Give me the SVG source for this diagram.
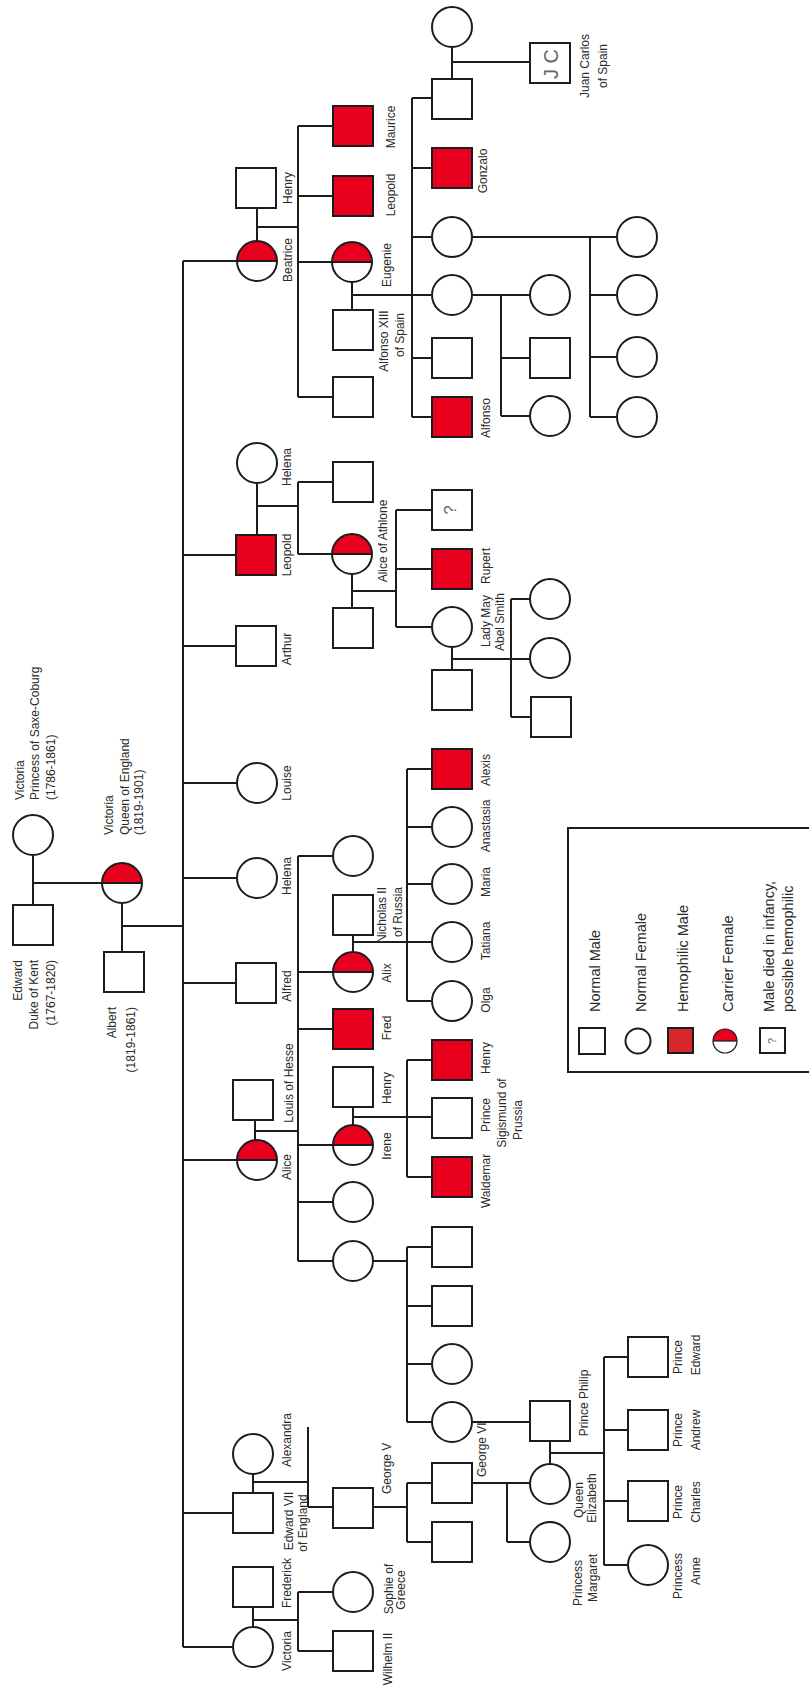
<svg xmlns="http://www.w3.org/2000/svg" width="809" height="1689" viewBox="0 0 809 1689">
<style>
.ln{fill:none;stroke:#1c1c1c;stroke-width:2}
.nd{fill:#fff;stroke:#1c1c1c;stroke-width:2}
.hm{fill:#e8001e;stroke:#1c1c1c;stroke-width:2}
.t{font-family:"Liberation Sans",Arial,sans-serif;font-size:12px;fill:#2a2a2a}
.m{text-anchor:middle}
.e{text-anchor:end}
.lg{font-size:14.5px}
.q{font-family:"Liberation Sans",Arial,sans-serif;fill:#666;text-anchor:middle}
</style>
<defs>
<rect id="S" x="-20" y="-20" width="40" height="40" class="nd"/>
<rect id="H" x="-20" y="-20" width="40" height="40" class="hm"/>
<circle id="F" r="20" class="nd"/>
<g id="C"><circle r="20" fill="#fff"/><path d="M-20,0 A20,20 0 0 1 20,0 Z" fill="#e8001e"/><circle r="20" fill="none" stroke="#1c1c1c" stroke-width="2"/><line x1="-20" y1="0" x2="20" y2="0" stroke="#1c1c1c" stroke-width="2"/></g>
</defs>
<rect width="809" height="1689" fill="#fff"/>

<g id="connectors" class="ln">
<path d="M183,261 V1647"/>
<path d="M183,261 H237 M183,555 H236 M183,646 H236 M183,783 H237 M183,878 H237 M122,926 H183 M183,983 H236 M183,1160 H237 M183,1513 H233 M183,1647 H233"/>
<path d="M33,855 V905 M33,883 H102 M122,903 V952"/>
<path d="M257,208 V241 M257,227 H298 M298,126 V397 M298,126 H333 M298,196 H333 M298,262 H332 M298,397 H333"/>
<path d="M352,282 V310 M352,295 H432 M412,98 V417 M412,98 H431 M412,168 H431 M412,237 H432 M412,358 H431 M412,417 H431"/>
<path d="M452,47 V79 M452,62 H530"/>
<path d="M472,237 H617 M590,237 V417 M590,295 H617 M590,357 H617 M590,417 H617"/>
<path d="M472,295 H530 M501,295 V416 M501,358 H530 M501,416 H530"/>
<path d="M257,483 V535 M257,506 H298 M298,482 V554 M298,482 H333 M298,554 H332"/>
<path d="M352,574 V608 M352,591 H396 M396,510 V627 M396,510 H431 M396,569 H431 M396,627 H432"/>
<path d="M452,647 V670 M452,659 H530 M511,599 V717 M511,599 H530 M511,717 H531"/>
<path d="M255,1120 V1140 M255,1131 H298 M298,856 V1261 M298,856 H333 M298,972 H333 M298,1029 H333 M298,1145 H333 M298,1202 H333 M298,1261 H333"/>
<path d="M353,935 V952 M353,942 H432 M407,769 V1001 M407,769 H431 M407,827 H432 M407,884 H432 M407,1001 H432"/>
<path d="M353,1107 V1125 M353,1117 H431 M407,1060 V1177 M407,1060 H431 M407,1177 H431"/>
<path d="M373,1261 H407 M407,1247 V1422 M407,1247 H431 M407,1306 H431 M407,1364 H432 M407,1422 H432 M472,1422 H530"/>
<path d="M253,1474 V1493 M253,1482 H308 M308,1427 V1507 M308,1507 H333 M373,1507 H407 M407,1483 V1542 M407,1483 H431 M407,1542 H431"/>
<path d="M472,1483 H530 M507,1483 V1542 M507,1542 H530"/>
<path d="M550,1441 V1464 M550,1453 H604 M604,1357 V1565 M604,1357 H628 M604,1430 H628 M604,1501 H628 M604,1565 H628"/>
<path d="M253,1607 V1627 M253,1620 H298 M298,1592 V1651 M298,1592 H333 M298,1651 H333"/>
</g>

<g id="victoria-saxe-coburg"><use href="#F" x="33" y="835"/>
<text class="t" transform="translate(24,800) rotate(-90)">Victoria</text>
<text class="t" transform="translate(39,800) rotate(-90)">Princess of Saxe-Coburg</text>
<text class="t" transform="translate(55,800) rotate(-90)">(1786-1861)</text></g>
<g id="edward-kent"><use href="#S" x="33" y="925"/>
<text class="t e" transform="translate(22,960) rotate(-90)">Edward</text>
<text class="t e" transform="translate(38,960) rotate(-90)">Duke of Kent</text>
<text class="t e" transform="translate(55,960) rotate(-90)">(1767-1820)</text></g>
<g id="queen-victoria"><use href="#C" x="122" y="883"/>
<text class="t" transform="translate(113,835) rotate(-90)">Victoria</text>
<text class="t" transform="translate(129,835) rotate(-90)">Queen of England</text>
<text class="t" transform="translate(143,835) rotate(-90)">(1819-1901)</text></g>
<g id="albert"><use href="#S" x="124" y="972"/>
<text class="t e" transform="translate(116,1007) rotate(-90)">Albert</text>
<text class="t e" transform="translate(135,1007) rotate(-90)">(1819-1861)</text></g>

<g id="henry-battenberg"><use href="#S" x="256" y="188"/><text class="t m" transform="translate(292,188) rotate(-90)">Henry</text></g>
<g id="beatrice"><use href="#C" x="257" y="261"/><text class="t m" transform="translate(292,260) rotate(-90)">Beatrice</text></g>
<g id="helena-waldeck"><use href="#F" x="257" y="463"/><text class="t m" transform="translate(291,467) rotate(-90)">Helena</text></g>
<g id="leopold"><use href="#H" x="256" y="555"/><text class="t m" transform="translate(291,555) rotate(-90)">Leopold</text></g>
<g id="arthur"><use href="#S" x="256" y="646"/><text class="t m" transform="translate(291,649) rotate(-90)">Arthur</text></g>
<g id="louise"><use href="#F" x="257" y="783"/><text class="t m" transform="translate(291,783) rotate(-90)">Louise</text></g>
<g id="helena"><use href="#F" x="257" y="878"/><text class="t m" transform="translate(291,876) rotate(-90)">Helena</text></g>
<g id="alfred"><use href="#S" x="256" y="983"/><text class="t m" transform="translate(291,986) rotate(-90)">Alfred</text></g>
<g id="louis-hesse"><use href="#S" x="253" y="1100"/><text class="t m" transform="translate(293,1083) rotate(-90)">Louis of Hesse</text></g>
<g id="alice"><use href="#C" x="257" y="1160"/><text class="t m" transform="translate(291,1167) rotate(-90)">Alice</text></g>
<g id="alexandra"><use href="#F" x="253" y="1454"/><text class="t m" transform="translate(291,1440) rotate(-90)">Alexandra</text></g>
<g id="edward-vii"><use href="#S" x="253" y="1513"/><text class="t m" transform="translate(293,1521) rotate(-90)">Edward VII</text><text class="t m" transform="translate(307,1523) rotate(-90)">of England</text></g>
<g id="frederick"><use href="#S" x="253" y="1587"/><text class="t m" transform="translate(291,1583) rotate(-90)">Frederick</text></g>
<g id="victoria-royal"><use href="#F" x="253" y="1647"/><text class="t m" transform="translate(291,1651) rotate(-90)">Victoria</text></g>

<g id="maurice"><use href="#H" x="353" y="126"/><text class="t m" transform="translate(395,127) rotate(-90)">Maurice</text></g>
<g id="leopold-b"><use href="#H" x="353" y="196"/><text class="t m" transform="translate(395,195) rotate(-90)">Leopold</text></g>
<g id="eugenie"><use href="#C" x="352" y="262"/><text class="t m" transform="translate(391,265) rotate(-90)">Eugenie</text></g>
<g id="alfonso-xiii"><use href="#S" x="353" y="330"/><text class="t m" transform="translate(388,341) rotate(-90)">Alfonso XIII</text><text class="t m" transform="translate(404,335) rotate(-90)">of Spain</text></g>
<g id="beatrice-son"><use href="#S" x="353" y="397"/></g>
<g id="leopold-son"><use href="#S" x="353" y="482"/></g>
<g id="alice-athlone"><use href="#C" x="352" y="554"/><text class="t m" transform="translate(387,541) rotate(-90)">Alice of Athlone</text></g>
<g id="athlone"><use href="#S" x="353" y="628"/></g>
<g id="alice-daughter-1"><use href="#F" x="353" y="856"/></g>
<g id="nicholas-ii"><use href="#S" x="353" y="915"/><text class="t m" transform="translate(386,915) rotate(-90)">Nicholas II</text><text class="t m" transform="translate(402,912) rotate(-90)">of Russia</text></g>
<g id="alix"><use href="#C" x="353" y="972"/><text class="t m" transform="translate(391,973) rotate(-90)">Alix</text></g>
<g id="fred"><use href="#H" x="353" y="1029"/><text class="t m" transform="translate(391,1028) rotate(-90)">Fred</text></g>
<g id="henry-prussia"><use href="#S" x="353" y="1087"/><text class="t m" transform="translate(391,1088) rotate(-90)">Henry</text></g>
<g id="irene"><use href="#C" x="353" y="1145"/><text class="t m" transform="translate(391,1146) rotate(-90)">Irene</text></g>
<g id="alice-daughter-2"><use href="#F" x="353" y="1202"/></g>
<g id="victoria-hesse"><use href="#F" x="353" y="1261"/></g>
<g id="george-v"><use href="#S" x="353" y="1508"/><text class="t" transform="translate(391,1494) rotate(-90)">George V</text></g>
<g id="sophie"><use href="#F" x="353" y="1592"/><text class="t m" transform="translate(393,1589) rotate(-90)">Sophie of</text><text class="t m" transform="translate(405,1590) rotate(-90)">Greece</text></g>
<g id="wilhelm-ii"><use href="#S" x="353" y="1651"/><text class="t m" transform="translate(392,1659) rotate(-90)">Wilhelm II</text></g>

<g id="juan-wife"><use href="#F" x="452" y="27"/></g>
<g id="juan"><use href="#S" x="452" y="99"/></g>
<g id="gonzalo"><use href="#H" x="452" y="168"/><text class="t m" transform="translate(487,171) rotate(-90)">Gonzalo</text></g>
<g id="beatriz"><use href="#F" x="452" y="237"/></g>
<g id="maria-cristina"><use href="#F" x="452" y="295"/></g>
<g id="jaime"><use href="#S" x="452" y="358"/></g>
<g id="alfonso"><use href="#H" x="452" y="417"/><text class="t m" transform="translate(490,418) rotate(-90)">Alfonso</text></g>
<g id="unknown-son"><use href="#S" x="452" y="510"/><text class="q" font-size="17" transform="translate(456,510) rotate(-90)">?</text></g>
<g id="rupert"><use href="#H" x="452" y="569"/><text class="t m" transform="translate(490,566) rotate(-90)">Rupert</text></g>
<g id="lady-may"><use href="#F" x="452" y="627"/><text class="t m" transform="translate(490,621) rotate(-90)">Lady May</text><text class="t m" transform="translate(504,622) rotate(-90)">Abel Smith</text></g>
<g id="abel-smith"><use href="#S" x="452" y="690"/></g>
<g id="alexis"><use href="#H" x="452" y="769"/><text class="t m" transform="translate(490,770) rotate(-90)">Alexis</text></g>
<g id="anastasia"><use href="#F" x="452" y="827"/><text class="t m" transform="translate(490,826) rotate(-90)">Anastasia</text></g>
<g id="maria"><use href="#F" x="452" y="884"/><text class="t m" transform="translate(490,882) rotate(-90)">Maria</text></g>
<g id="tatiana"><use href="#F" x="452" y="942"/><text class="t m" transform="translate(490,941) rotate(-90)">Tatiana</text></g>
<g id="olga"><use href="#F" x="452" y="1001"/><text class="t m" transform="translate(490,1000) rotate(-90)">Olga</text></g>
<g id="henry-son"><use href="#H" x="452" y="1060"/><text class="t m" transform="translate(490,1058) rotate(-90)">Henry</text></g>
<g id="sigismund"><use href="#S" x="452" y="1118"/><text class="t m" transform="translate(490,1115) rotate(-90)">Prince</text><text class="t m" transform="translate(506,1113) rotate(-90)">Sigismund of</text><text class="t m" transform="translate(522,1120) rotate(-90)">Prussia</text></g>
<g id="waldemar"><use href="#H" x="452" y="1177"/><text class="t m" transform="translate(490,1181) rotate(-90)">Waldemar</text></g>
<g id="hesse-son-1"><use href="#S" x="452" y="1247"/></g>
<g id="hesse-son-2"><use href="#S" x="452" y="1306"/></g>
<g id="hesse-daughter-1"><use href="#F" x="452" y="1364"/></g>
<g id="alice-battenberg"><use href="#F" x="452" y="1422"/></g>
<g id="george-vi"><use href="#S" x="452" y="1483"/><text class="t" transform="translate(486,1477) rotate(-90)">George VI</text></g>
<g id="edward-viii"><use href="#S" x="452" y="1542"/></g>

<g id="juan-carlos"><use href="#S" x="550" y="63"/><text class="q" font-size="20" transform="translate(558,64) rotate(-90)">J C</text>
<text class="t m" transform="translate(589,66) rotate(-90)">Juan Carlos</text><text class="t m" transform="translate(607,66) rotate(-90)">of Spain</text></g>
<g id="mc-daughter"><use href="#F" x="550" y="295"/></g>
<g id="mc-son"><use href="#S" x="550" y="358"/></g>
<g id="mc-daughter-2"><use href="#F" x="550" y="416"/></g>
<g id="may-daughter-1"><use href="#F" x="550" y="599"/></g>
<g id="may-daughter-2"><use href="#F" x="550" y="658"/></g>
<g id="may-son"><use href="#S" x="551" y="717"/></g>
<g id="prince-philip"><use href="#S" x="550" y="1421"/><text class="t m" transform="translate(588,1403) rotate(-90)">Prince Philip</text></g>
<g id="elizabeth"><use href="#F" x="550" y="1484"/><text class="t m" transform="translate(583,1500) rotate(-90)">Queen</text><text class="t m" transform="translate(596,1498) rotate(-90)">Elizabeth</text></g>
<g id="margaret"><use href="#F" x="550" y="1542"/><text class="t m" transform="translate(582,1583) rotate(-90)">Princess</text><text class="t m" transform="translate(597,1578) rotate(-90)">Margaret</text></g>

<g id="beatriz-child-1"><use href="#F" x="637" y="237"/></g>
<g id="beatriz-child-2"><use href="#F" x="637" y="295"/></g>
<g id="beatriz-child-3"><use href="#F" x="637" y="357"/></g>
<g id="beatriz-child-4"><use href="#F" x="637" y="417"/></g>
<g id="prince-edward"><use href="#S" x="648" y="1357"/><text class="t m" transform="translate(682,1357) rotate(-90)">Prince</text><text class="t m" transform="translate(700,1355) rotate(-90)">Edward</text></g>
<g id="prince-andrew"><use href="#S" x="648" y="1430"/><text class="t m" transform="translate(682,1430) rotate(-90)">Prince</text><text class="t m" transform="translate(700,1430) rotate(-90)">Andrew</text></g>
<g id="prince-charles"><use href="#S" x="648" y="1501"/><text class="t m" transform="translate(682,1502) rotate(-90)">Prince</text><text class="t m" transform="translate(700,1502) rotate(-90)">Charles</text></g>
<g id="princess-anne"><use href="#F" x="648" y="1565"/><text class="t m" transform="translate(682,1576) rotate(-90)">Princess</text><text class="t m" transform="translate(700,1571) rotate(-90)">Anne</text></g>

<g id="legend">
<rect x="568" y="828" width="260" height="244" fill="none" stroke="#1c1c1c" stroke-width="2"/>
<rect x="579" y="1028" width="26" height="26" class="nd"/>
<text class="t lg" transform="translate(600,1012) rotate(-90)">Normal Male</text>
<circle cx="638" cy="1041" r="12.5" class="nd"/>
<text class="t lg" transform="translate(646,1012) rotate(-90)">Normal Female</text>
<rect x="668" y="1028" width="25" height="25" fill="#d9282b" stroke="#1c1c1c" stroke-width="2"/>
<text class="t lg" transform="translate(688,1012) rotate(-90)">Hemophilic Male</text>
<g transform="translate(725,1041) scale(0.6)"><use href="#C"/></g>
<text class="t lg" transform="translate(733,1012) rotate(-90)">Carrier Female</text>
<rect x="760" y="1028" width="25" height="25" class="nd"/>
<text class="q" font-size="11" transform="translate(776,1041) rotate(-90)">?</text>
<text class="t lg" transform="translate(774,1012) rotate(-90)">Male died in infancy,</text>
<text class="t lg" transform="translate(793,1012) rotate(-90)">possible hemophilic</text>
</g>
</svg>
